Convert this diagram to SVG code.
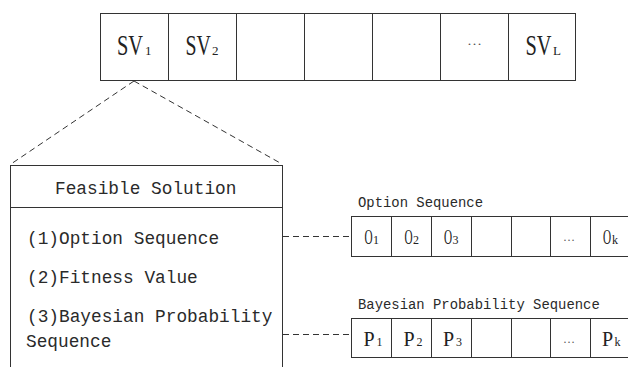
<svg xmlns="http://www.w3.org/2000/svg" width="628" height="367" viewBox="0 0 628 367">
<style>
.box{fill:#fff;stroke:#333;stroke-width:1}
.ln{stroke:#333;stroke-width:1;fill:none}
.dash{stroke:#333;stroke-width:1;fill:none;stroke-dasharray:6,4}
.sv{font-family:"Liberation Serif",serif;font-size:30px;fill:#222}
.svs{font-family:"Liberation Serif",serif;font-size:13px;fill:#222}
.cell{font-family:"Liberation Serif",serif;font-size:20px;fill:#222}
.cells{font-family:"Liberation Serif",serif;font-size:12px;fill:#222}
.dots{font-family:"Liberation Serif",serif;font-size:13px;fill:#555}
.mono{font-family:"Liberation Mono",monospace;font-size:17.8px;fill:#2a2a2a}
.lbl{font-family:"Liberation Mono",monospace;font-size:13.9px;fill:#2a2a2a}
</style>
<rect width="628" height="367" fill="#fff"/>
<g id="sv-sequence">
<rect class="box" x="100.5" y="13.5" width="475" height="67"/>
<path class="ln" d="M168.5 13.5V80.5M236.5 13.5V80.5M304.5 13.5V80.5M372.5 13.5V80.5M440.5 13.5V80.5M508.5 13.5V80.5"/>
<text class="sv" transform="translate(117 54.5) scale(0.68 1)">SV</text><text class="svs" x="145" y="54.5">1</text>
<text class="sv" transform="translate(185.5 54.5) scale(0.66 1)">SV</text><text class="svs" x="212" y="54.5">2</text>
<text class="dots" x="467" y="45" textLength="15" lengthAdjust="spacingAndGlyphs">…</text>
<text class="sv" transform="translate(525.5 54.5) scale(0.68 1)">SV</text><text class="svs" x="553" y="54.5">L</text>
</g>
<g id="feasible-solution">
<rect class="box" x="10.5" y="165.5" width="272" height="210"/>
<line class="ln" x1="10.5" y1="207.5" x2="282.5" y2="207.5"/>
<text class="mono" x="55" y="194" font-size="18">Feasible Solution</text>
<text class="mono" x="27" y="244">(1)Option Sequence</text>
<text class="mono" x="27" y="283">(2)Fitness Value</text>
<text class="mono" x="27" y="322">(3)Bayesian Probability</text>
<text class="mono" x="26" y="347">Sequence</text>
</g>
<g id="option-sequence">
<text class="lbl" x="358" y="206.5">Option Sequence</text>
<rect class="box" x="351.5" y="216.5" width="280" height="40"/>
<path class="ln" d="M391.5 216.5V256.5M431.5 216.5V256.5M471.5 216.5V256.5M511.5 216.5V256.5M550.5 216.5V256.5M590.5 216.5V256.5"/>
<text class="cell" transform="translate(364.5 243.7) scale(0.56 1)">O</text><text class="cells" x="373" y="243.7">1</text>
<text class="cell" transform="translate(404.5 243.7) scale(0.56 1)">O</text><text class="cells" x="413" y="243.7">2</text>
<text class="cell" transform="translate(444 243.7) scale(0.56 1)">O</text><text class="cells" x="452.5" y="243.7">3</text>
<text class="dots" x="563" y="241" textLength="12" lengthAdjust="spacingAndGlyphs">…</text>
<text class="cell" transform="translate(603 243.7) scale(0.56 1)">O</text><text class="cells" x="612" y="243.7">k</text>
</g>
<g id="probability-sequence">
<text class="lbl" x="358" y="308.5">Bayesian Probability Sequence</text>
<rect class="box" x="351.5" y="318.5" width="280" height="39"/>
<path class="ln" d="M391.5 318.5V357.5M431.5 318.5V357.5M471.5 318.5V357.5M511.5 318.5V357.5M550.5 318.5V357.5M590.5 318.5V357.5"/>
<text class="cell" x="363.5" y="346">P</text><text class="cells" x="376.5" y="346">1</text>
<text class="cell" x="403.5" y="346">P</text><text class="cells" x="416.5" y="346">2</text>
<text class="cell" x="443" y="346">P</text><text class="cells" x="456" y="346">3</text>
<text class="dots" x="563" y="343" textLength="12" lengthAdjust="spacingAndGlyphs">…</text>
<text class="cell" x="602" y="346">P</text><text class="cells" x="614.5" y="346">k</text>
</g>
<g id="connectors">
<line class="dash" x1="134" y1="81" x2="11" y2="164"/>
<line class="dash" x1="134" y1="81" x2="282" y2="164"/>
<line class="dash" x1="283" y1="236.5" x2="351" y2="236.5"/>
<line class="dash" x1="283" y1="334.5" x2="351" y2="334.5"/>
</g>
</svg>
